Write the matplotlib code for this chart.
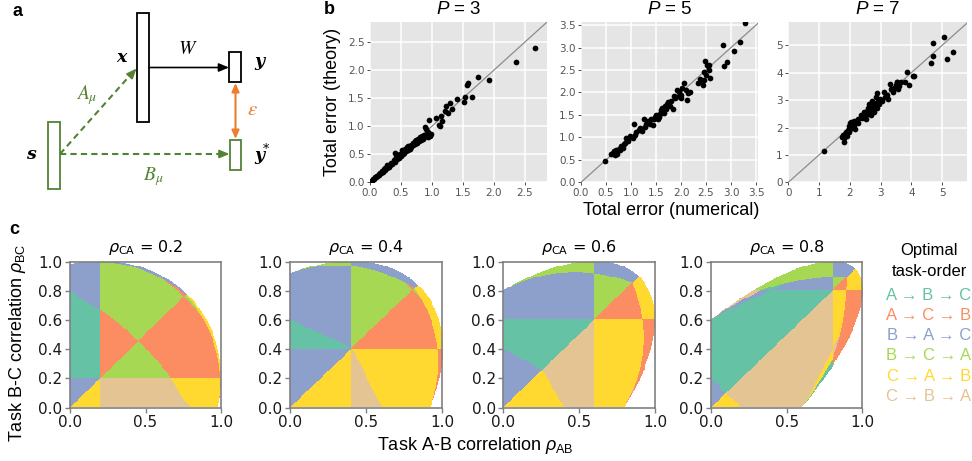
import numpy as np
import matplotlib
matplotlib.use("Agg")
import matplotlib.pyplot as plt
from matplotlib.colors import ListedColormap
from matplotlib.patches import Rectangle

plt.rcParams['font.family'] = ['Liberation Sans', 'DejaVu Sans']
plt.rcParams['mathtext.fontset'] = 'custom'
plt.rcParams['mathtext.rm'] = 'Liberation Sans'
plt.rcParams['mathtext.it'] = 'Liberation Sans:italic'
plt.rcParams['mathtext.bf'] = 'Liberation Sans:bold'

# ---------------- data ----------------
# panel b : total error, numerical (x) vs theory (y)
p3_num = [0.02, 0.04, 0.05, 0.07, 0.08, 0.10, 0.11, 0.12, 0.14, 0.15, 0.16, 0.18, 0.19, 0.21, 0.22, 0.24,
          0.25, 0.27, 0.28, 0.30, 0.31, 0.33, 0.34, 0.36,
          0.38, 0.40, 0.41, 0.42, 0.44, 0.45, 0.47, 0.48, 0.50, 0.52, 0.53, 0.55, 0.56, 0.58, 0.60, 0.61,
          0.62, 0.64, 0.66, 0.67, 0.69, 0.70, 0.72, 0.73, 0.75, 0.76, 0.78, 0.79,
          0.80, 0.82, 0.84, 0.85, 0.87, 0.88, 0.89, 0.90, 0.91, 0.92, 0.93, 0.94, 0.95, 0.96, 0.97, 0.98,
          1.07, 1.11, 1.13, 1.14, 1.16, 1.21, 1.22, 1.26, 1.29, 1.32, 1.40, 1.52, 1.54, 1.56, 1.58, 1.65,
          1.75, 1.93, 2.36, 2.66]
p3_theory = [0.02, 0.03, 0.06, 0.06, 0.09, 0.09, 0.12, 0.11, 0.14, 0.13, 0.17, 0.17, 0.20, 0.19, 0.23, 0.22,
             0.26, 0.25, 0.30, 0.27, 0.31, 0.30, 0.35, 0.33,
             0.40, 0.37, 0.53, 0.45, 0.42, 0.48, 0.44, 0.50, 0.47, 0.57, 0.50, 0.53, 0.60, 0.55, 0.63, 0.58,
             0.65, 0.60, 0.67, 0.63, 0.70, 0.66, 0.74, 0.69, 0.75, 0.71, 0.77, 0.73,
             0.80, 0.76, 0.82, 0.78, 0.85, 0.80, 0.99, 0.83, 0.95, 0.87, 0.81, 0.90, 0.84, 1.12, 0.82, 0.86,
             1.14, 1.03, 1.00, 1.19, 1.10, 1.27, 1.36, 1.24, 1.42, 1.31, 1.48, 1.44, 1.52, 1.74, 1.77, 1.52,
             1.88, 1.82, 2.14, 2.39]

p5_num = [0.47, 0.60, 0.64, 0.66, 0.67, 0.68, 0.70, 0.72, 0.75, 0.78, 0.80, 0.83, 0.85, 0.87, 0.90, 0.92,
          0.93, 0.97, 1.00, 1.03, 1.05, 1.07, 1.10, 1.15, 1.17, 1.21, 1.25, 1.27, 1.30, 1.33, 1.37, 1.40,
          1.43, 1.45, 1.47, 1.50, 1.52, 1.53, 1.55, 1.57, 1.59, 1.61, 1.62, 1.63, 1.65, 1.67, 1.70, 1.72,
          1.74, 1.77, 1.80, 1.83, 1.85, 1.87, 1.90, 1.92, 1.95, 1.97, 1.99, 2.00, 2.02, 2.05, 2.10, 2.11,
          2.13, 2.17, 2.33, 2.37, 2.40, 2.43, 2.45, 2.46, 2.48, 2.50, 2.51, 2.53, 2.55, 2.56, 2.57, 2.83,
          2.85, 2.92, 3.05, 3.18, 3.28]
p5_theory = [0.47, 0.63, 0.66, 0.70, 0.60, 0.65, 0.72, 0.62, 0.74, 0.72, 0.81, 0.76, 0.85, 0.87, 0.99, 0.95,
             0.92, 1.03, 1.00, 0.99, 1.29, 1.06, 1.13, 1.16, 1.20, 1.14, 1.42, 1.24, 1.30, 1.36, 1.30, 1.42,
             1.27, 1.40, 1.46, 1.50, 1.48, 1.42, 1.45, 1.53, 1.60, 1.66, 1.62, 1.57, 1.55, 1.70, 1.64, 1.75,
             1.78, 1.70, 1.80, 1.64, 1.92, 1.87, 1.90, 2.05, 2.00, 1.94, 1.87, 1.95, 2.10, 2.22, 2.05, 1.84,
             1.98, 2.00, 2.20, 2.31, 2.24, 2.17, 2.28, 2.46, 2.69, 2.40, 2.61, 2.58, 2.62, 2.50, 2.33, 3.06,
             2.58, 2.68, 2.92, 3.12, 3.55]

p7_num = [1.17, 1.80, 1.75, 1.78, 1.82, 1.85, 1.88, 1.90, 1.93, 1.96, 1.98, 2.00, 2.02, 2.05, 2.08, 2.12,
          2.15, 2.18, 2.20, 2.25, 2.28, 2.35, 2.40, 2.45, 2.48, 2.52, 2.55, 2.58, 2.60, 2.62, 2.65, 2.68,
          2.70, 2.72, 2.75, 2.78, 2.80, 2.82, 2.85, 2.88, 2.90, 2.92, 2.95, 2.98, 3.05, 3.10, 3.15, 3.20,
          3.25, 3.31, 3.35, 3.40, 3.45, 3.50, 3.53, 3.55, 3.58, 3.60, 3.66, 3.78, 3.86, 3.94, 4.06, 4.10,
          4.65, 4.70, 4.72, 5.07, 5.16, 5.35]
p7_theory = [1.16, 1.48, 1.65, 1.72, 1.60, 1.78, 1.85, 1.70, 1.92, 1.82, 2.05, 2.15, 1.95, 2.20, 2.02, 2.22,
             2.10, 1.95, 2.25, 2.30, 2.18, 2.45, 2.35, 2.55, 2.42, 2.30, 2.60, 2.70, 2.50, 2.85, 2.62, 2.75,
             2.45, 2.95, 2.68, 2.90, 2.58, 2.82, 3.10, 2.72, 3.25, 2.95, 2.85, 3.05, 2.95, 3.30, 3.10, 3.20,
             3.05, 3.60, 3.40, 3.30, 3.45, 3.55, 3.67, 3.65, 3.40, 3.50, 3.67, 3.65, 4.04, 3.55, 3.88, 3.88,
             4.37, 4.61, 5.07, 5.31, 4.50, 4.77]

# panel c : optimal task order
rho_ca_values = [0.2, 0.4, 0.6, 0.8]
order_labels = ['A \u2192 B \u2192 C', 'A \u2192 C \u2192 B', 'B \u2192 A \u2192 C',
                'B \u2192 C \u2192 A', 'C \u2192 A \u2192 B', 'C \u2192 B \u2192 A']
order_colors = ['#66c2a5', '#fc8d62', '#8da0cb', '#a6d854', '#ffd92f', '#e5c494']
# task sequences evaluated for each coloured region (as drawn in the figure)
order_sequences = ['ABC', 'ACB', 'BAC', 'CAB', 'BCA', 'CBA']

W_PX, H_PX = 972, 461
fig = plt.figure(figsize=(9.72, 4.61), dpi=100)


def add_ax(l, t, r, b):
    return fig.add_axes([l / W_PX, 1 - b / H_PX, (r - l) / W_PX, (b - t) / H_PX])


def ftext(x, y, s, **kw):
    kw.setdefault('ha', 'center')
    kw.setdefault('va', 'center')
    return fig.text(x / W_PX, 1 - y / H_PX, s, **kw)


# ---------------- panel a (schematic) ----------------
axa = add_ax(0, 0, 300, 200)
axa.set_xlim(0, 300)
axa.set_ylim(200, 0)
axa.axis('off')
green = '#548235'
orange = '#ed7d31'
axa.add_patch(Rectangle((137, 13), 12, 109, fc='white', ec='black', lw=1.3))
axa.add_patch(Rectangle((229, 52), 11.5, 30, fc='white', ec='black', lw=1.3))
axa.add_patch(Rectangle((230, 140), 11, 30, fc='white', ec=green, lw=1.3))
axa.add_patch(Rectangle((48, 122), 12, 66.5, fc='white', ec=green, lw=1.3))
axa.annotate('', xy=(229, 67.5), xytext=(149, 67.5),
             arrowprops=dict(arrowstyle='-|>,head_length=0.6,head_width=0.25', color='black', lw=1.2,
                             shrinkA=0, shrinkB=0))
axa.plot([60, 133], [154, 72], color=green, lw=1.5, ls=(0, (3, 2)))
axa.annotate('', xy=(136.5, 68.5), xytext=(130, 75.8),
             arrowprops=dict(arrowstyle='-|>,head_length=0.6,head_width=0.25', color=green, lw=1.2,
                             shrinkA=0, shrinkB=0))
axa.plot([60, 224], [154, 154], color=green, lw=1.5, ls=(0, (3, 2)))
axa.annotate('', xy=(229.5, 154), xytext=(220, 154),
             arrowprops=dict(arrowstyle='-|>,head_length=0.6,head_width=0.25', color=green, lw=1.2,
                             shrinkA=0, shrinkB=0))
axa.annotate('', xy=(235.5, 83), xytext=(235.5, 139),
             arrowprops=dict(arrowstyle='<|-|>,head_length=0.5,head_width=0.22', color=orange, lw=1.5,
                             shrinkA=0, shrinkB=0))
serif = dict(family='DejaVu Serif', fontweight='bold', fontstyle='italic', fontsize=12.5)
axa.text(121, 58, 'x', ha='center', va='center', **serif)
axa.text(259, 62, 'y', ha='center', va='center', **serif)
axa.text(259, 155, 'y', ha='center', va='center', **serif)
axa.text(266, 149, '*', ha='center', va='center', family='DejaVu Serif', fontsize=9)
axa.text(31, 154, 's', ha='center', va='center', **serif)
axa.text(188, 49, r'$W$', ha='center', va='center', fontsize=14, math_fontfamily='stix')
axa.text(87, 95, r'$A_\mu$', ha='center', va='center', fontsize=14, color=green, math_fontfamily='stix')
axa.text(153, 177, r'$B_\mu$', ha='center', va='center', fontsize=14, color=green, math_fontfamily='stix')
axa.text(252, 109, r'$\varepsilon$', ha='center', va='center', fontsize=15, color=orange,
         math_fontfamily='stix')

# ---------------- panel b (scatter) ----------------
b_sets = [
    (p3_num, p3_theory, (370, 21.5, 547, 182.3), 2.86, 2.87, [0, 0.5, 1, 1.5, 2, 2.5], '3', '{:.1f}'),
    (p5_num, p5_theory, (581, 21.5, 758, 182.3), 3.54, 3.58, [0, 0.5, 1, 1.5, 2, 2.5, 3, 3.5], '5', '{:.1f}'),
    (p7_num, p7_theory, (788.3, 21.5, 967, 182.3), 5.81, 5.87, [0, 1, 2, 3, 4, 5], '7', '{:.0f}'),
]
for num, th, box, xmax, ymax, ticks, P, fmt in b_sets:
    ax = add_ax(*box)
    ax.set_facecolor('#e5e5e5')
    for s in ax.spines.values():
        s.set_visible(False)
    ax.set_xlim(0, xmax)
    ax.set_ylim(0, ymax)
    ax.set_xticks(ticks)
    ax.set_yticks(ticks)
    ax.set_xticklabels([fmt.format(t) for t in ticks])
    ax.set_yticklabels([fmt.format(t) for t in ticks])
    ax.grid(True, color='white', lw=1.1)
    ax.set_axisbelow(True)
    ax.tick_params(length=2.5, width=0.6, color='#333333', labelcolor='#555555', labelsize=7.5, pad=1.5,
                   labelfontfamily='DejaVu Sans')
    ax.plot([0, 10], [0, 10], color='#8c8c8c', lw=0.9, zorder=2)
    ax.scatter(num, th, s=17, color='black', zorder=3, linewidths=0)
    ftext((box[0] + box[2]) / 2, 9, r'$P$ = ' + P, fontsize=13.5)

ftext(332, 102, 'Total error (theory)', rotation=90, fontsize=13)
ftext(671, 210, 'Total error (numerical)', fontsize=13)

# ---------------- panel c (optimal order maps) ----------------


def pair_corr(p, q, rab, rbc, rca):
    key = ''.join(sorted(p + q))
    return {'AB': rab, 'BC': rbc, 'AC': rca}[key]


def total_error(seq, rab, rbc, rca):
    # linear student, sequential learning of three tasks; inputs correlated, shared output
    n = rab.size
    Ra = np.ones((n, 3, 3))
    for i in range(3):
        for j in range(3):
            if i != j:
                Ra[:, i, j] = pair_corr(seq[i], seq[j], rab, rbc, rca)
    Cm = np.zeros((n, 3, 3))
    I3 = np.eye(3)
    for mu in range(3):
        r = I3[mu][None, :] - Cm[:, mu, :]
        Cm = Cm + Ra[:, :, mu][:, :, None] * r[:, None, :]
    D = I3[None] - Cm
    return (D.sum(axis=2) ** 2).sum(axis=1)


Ngrid = 160
gv = (np.arange(Ngrid) + 0.5) / Ngrid
GX, GY = np.meshgrid(gv, gv)
cmap = ListedColormap(order_colors)
c_lefts = [70, 290, 503.3, 711]
c_rights = [221, 442.3, 655, 862.3]
for k, l, r in zip(rho_ca_values, c_lefts, c_rights):
    ax = add_ax(l, 262, r, 407.5)
    xs = GX.ravel()
    ys = GY.ravel()
    ks = np.full_like(xs, k)
    E = np.array([total_error(s, xs, ys, ks) for s in order_sequences])
    lab = np.argmin(E, axis=0).reshape(GX.shape).astype(float)
    det = 1 - GX ** 2 - GY ** 2 - k ** 2 + 2 * GX * GY * k
    lab[det < 0] = np.nan
    ax.imshow(lab, origin='lower', extent=(0, 1, 0, 1), cmap=cmap, vmin=-0.5, vmax=5.5,
              interpolation='nearest', aspect='auto')
    ax.set_xlim(0, 1)
    ax.set_ylim(0, 1)
    ax.set_xticks([0, 0.5, 1.0])
    ax.set_xticklabels(['0.0', '0.5', '1.0'])
    ax.set_yticks([0, 0.2, 0.4, 0.6, 0.8, 1.0])
    ax.set_yticklabels(['0.0', '0.2', '0.4', '0.6', '0.8', '1.0'])
    for s in ax.spines.values():
        s.set_color('#808080')
        s.set_linewidth(1.2)
    ax.tick_params(length=3.5, width=1, color='#808080', labelsize=11, pad=2,
                   labelfontfamily='DejaVu Sans', labelcolor='#1a1a1a')
    ftext((l + r) / 2, 247, r'$\rho_{\rm CA}$ = ' + f'{k:.1f}', fontsize=11.5, family='DejaVu Sans',
          math_fontfamily='dejavusans')

ftext(17, 343, r'Task B-C correlation $\rho_{\rm BC}$', rotation=90, fontsize=13)
ftext(475, 445, r'Task A-B correlation $\rho_{\rm AB}$', fontsize=13)

ftext(929, 250, 'Optimal', fontsize=12)
ftext(929, 271, 'task-order', fontsize=12)
for i, (lab_txt, col) in enumerate(zip(order_labels, order_colors)):
    ftext(929, 295 + i * 20.3, lab_txt, fontsize=12, color=col)

# panel letters
ftext(17, 11, 'a', fontsize=13, fontweight='bold')
ftext(329, 9, 'b', fontsize=13, fontweight='bold')
ftext(14, 229, 'c', fontsize=13, fontweight='bold')

fig.savefig('out.png', dpi=100)
